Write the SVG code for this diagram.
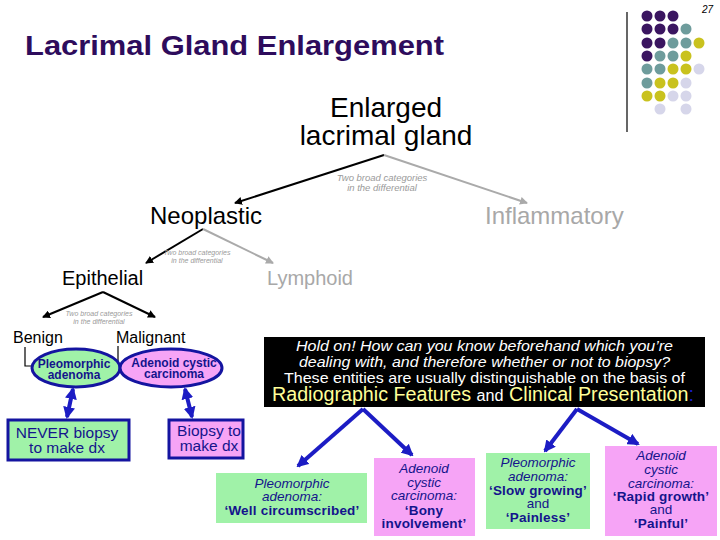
<svg xmlns="http://www.w3.org/2000/svg" width="720" height="540" viewBox="0 0 720 540">
<style>
text{font-family:"Liberation Sans",Arial,sans-serif}
.c{text-anchor:middle}
.small{font-size:9.5px;font-style:italic;fill:#9a9a9a}
.tiny{font-size:7px;font-style:italic;fill:#9a9a9a}
.nav{fill:#14148c}
.bx{font-size:13.5px}
.it{font-style:italic}
.bd{font-weight:bold;letter-spacing:0.2px}
.bl{stroke:#000;stroke-width:2;fill:none}
.gr{stroke:#aaaaaa;stroke-width:2;fill:none}
.blue{stroke:#1c1cc4;stroke-width:4;fill:none}
.P{fill:#3a1560}.T{fill:#6e9c9c}.Y{fill:#c9c21e}.L{fill:#d6d6ea}
</style>
<defs>
<marker id="ab" markerWidth="8" markerHeight="8" refX="7" refY="4" orient="auto" markerUnits="userSpaceOnUse"><path d="M0,0 L8,4 L0,8 z" fill="#000"/></marker>
<marker id="ag" markerWidth="8" markerHeight="8" refX="7" refY="4" orient="auto" markerUnits="userSpaceOnUse"><path d="M0,0 L8,4 L0,8 z" fill="#aaaaaa"/></marker>
<marker id="au" markerWidth="12" markerHeight="12" refX="10" refY="6" orient="auto" markerUnits="userSpaceOnUse"><path d="M0,0 L12,6 L0,12 z" fill="#1c1cc4"/></marker>
<marker id="aus" markerWidth="12" markerHeight="12" refX="2" refY="6" orient="auto" markerUnits="userSpaceOnUse"><path d="M12,0 L0,6 L12,12 z" fill="#1c1cc4"/></marker>
</defs>
<rect width="720" height="540" fill="#fff"/>

<g id="decor">
<text x="713" y="13" font-size="10" font-style="italic" text-anchor="end">27</text>
<line x1="627" y1="12" x2="627" y2="132" stroke="#000" stroke-width="1.2"/>
<circle class="P" cx="647" cy="16" r="5.5"/><circle class="P" cx="660" cy="16" r="5.5"/><circle class="P" cx="673" cy="16" r="5.5"/>
<circle class="P" cx="647" cy="29" r="5.5"/><circle class="P" cx="660" cy="29" r="5.5"/><circle class="P" cx="673" cy="29" r="5.5"/><circle class="T" cx="686" cy="29" r="5.5"/>
<circle class="P" cx="647" cy="43" r="5.5"/><circle class="P" cx="660" cy="43" r="5.5"/><circle class="T" cx="673" cy="43" r="5.5"/><circle class="T" cx="686" cy="43" r="5.5"/><circle class="Y" cx="699" cy="43" r="5.5"/>
<circle class="P" cx="647" cy="56" r="5.5"/><circle class="T" cx="660" cy="56" r="5.5"/><circle class="T" cx="673" cy="56" r="5.5"/><circle class="Y" cx="686" cy="56" r="5.5"/>
<circle class="T" cx="647" cy="69" r="5.5"/><circle class="T" cx="660" cy="69" r="5.5"/><circle class="Y" cx="673" cy="69" r="5.5"/><circle class="Y" cx="686" cy="69" r="5.5"/><circle class="L" cx="699" cy="69" r="5.5"/>
<circle class="T" cx="647" cy="83" r="5.5"/><circle class="Y" cx="660" cy="83" r="5.5"/><circle class="Y" cx="673" cy="83" r="5.5"/><circle class="L" cx="686" cy="83" r="5.5"/>
<circle class="Y" cx="647" cy="96" r="5.5"/><circle class="Y" cx="660" cy="96" r="5.5"/><circle class="L" cx="673" cy="96" r="5.5"/><circle class="L" cx="686" cy="96" r="5.5"/>
<circle class="L" cx="660" cy="109" r="5.5"/><circle class="L" cx="686" cy="109" r="5.5"/>
</g>

<g id="title"><text x="25" y="55" font-size="28" font-weight="bold" fill="#2e0c5c" textLength="419" lengthAdjust="spacingAndGlyphs">Lacrimal Gland Enlargement</text></g>

<g id="connectors">
<line class="bl" x1="384" y1="155" x2="235" y2="203" marker-end="url(#ab)"/>
<line class="gr" x1="384" y1="155" x2="527" y2="203" marker-end="url(#ag)"/>
<line class="bl" x1="203" y1="229" x2="146" y2="263" marker-end="url(#ab)"/>
<line class="gr" x1="203" y1="229" x2="273" y2="263" marker-end="url(#ag)"/>
<line class="bl" x1="103" y1="292" x2="43" y2="317" marker-end="url(#ab)"/>
<line class="bl" x1="103" y1="292" x2="155" y2="317" marker-end="url(#ab)"/>
<polyline points="25,347 25,366 33,366" stroke="#000" stroke-width="1.2" fill="none"/>
<line x1="118" y1="346" x2="118" y2="366" stroke="#000" stroke-width="1.2"/>
<line class="blue" x1="73" y1="389" x2="67" y2="417" marker-start="url(#aus)" marker-end="url(#au)"/>
<line class="blue" x1="185" y1="389" x2="192" y2="417" marker-start="url(#aus)" marker-end="url(#au)"/>
<line class="blue" x1="363" y1="409" x2="298" y2="466" marker-end="url(#au)"/>
<line class="blue" x1="363" y1="409" x2="412" y2="455" marker-end="url(#au)"/>
<line class="blue" x1="577" y1="409" x2="545" y2="451" marker-end="url(#au)"/>
<line class="blue" x1="577" y1="409" x2="638" y2="444" marker-end="url(#au)"/>
</g>

<g id="root"><text class="c" x="386" y="117" font-size="28">Enlarged</text><text class="c" x="386" y="145" font-size="28">lacrimal gland</text></g>
<g id="label1"><text class="c small" x="382" y="181">Two broad categories</text><text class="c small" x="382" y="191">in the differential</text></g>
<g id="neoplastic"><text x="150" y="224" font-size="24">Neoplastic</text></g>
<g id="inflammatory"><text x="485" y="224" font-size="24" fill="#a8a8a8">Inflammatory</text></g>
<g id="label2"><text class="c tiny" x="197" y="255">Two broad categories</text><text class="c tiny" x="197" y="263">in the differential</text></g>
<g id="epithelial"><text x="62" y="285" font-size="20">Epithelial</text></g>
<g id="lymphoid"><text x="267" y="285" font-size="20" fill="#a8a8a8">Lymphoid</text></g>
<g id="label3"><text class="c tiny" x="99" y="316">Two broad categories</text><text class="c tiny" x="99" y="324">in the differential</text></g>
<g id="benign"><text x="13" y="343" font-size="16">Benign</text></g>
<g id="malignant"><text x="116" y="343" font-size="16">Malignant</text></g>

<g id="pleo-ellipse"><ellipse cx="76" cy="368" rx="44" ry="19" fill="#a0f2a8" stroke="#1414a0" stroke-width="3"/>
<text class="c nav" x="74" y="368" font-size="12" font-weight="bold">Pleomorphic</text><text class="c nav" x="74" y="379" font-size="12" font-weight="bold">adenoma</text></g>
<g id="acc-ellipse"><ellipse cx="171" cy="368" rx="51" ry="19" fill="#f6a4f6" stroke="#1414a0" stroke-width="3"/>
<text class="c nav" x="174" y="367" font-size="12" font-weight="bold">Adenoid cystic</text><text class="c nav" x="174" y="378" font-size="12" font-weight="bold">carcinoma</text></g>

<g id="never"><rect x="8" y="420" width="121" height="40" fill="#a0f2a8" stroke="#1414a0" stroke-width="3"/>
<text class="c nav" x="67" y="438" font-size="15.5">NEVER biopsy</text><text class="c nav" x="67" y="453" font-size="15.5">to make dx</text></g>
<g id="biopsy"><rect x="169" y="420" width="74" height="38" fill="#f6a4f6" stroke="#1414a0" stroke-width="3"/>
<text class="c nav" x="209" y="436" font-size="15.5">Biopsy to</text><text class="c nav" x="209" y="451" font-size="15.5">make dx</text></g>

<g id="holdon"><rect x="264" y="337" width="441" height="70" fill="#000"/>
<text x="296" y="351" font-size="15" font-style="italic" fill="#fff" textLength="377" lengthAdjust="spacingAndGlyphs">Hold on! How can you know beforehand which you’re</text>
<text x="299" y="367" font-size="15" font-style="italic" fill="#fff" textLength="371" lengthAdjust="spacingAndGlyphs">dealing with, and therefore whether or not to biopsy?</text>
<text x="284" y="383" font-size="15" fill="#fff" textLength="401" lengthAdjust="spacingAndGlyphs">These entities are usually distinguishable on the basis of</text>
<text x="272" y="401" font-size="19.5" fill="#ffff99" textLength="422" lengthAdjust="spacingAndGlyphs">Radiographic Features <tspan fill="#fff" font-size="16">and</tspan> Clinical Presentation<tspan fill="#1c1cc4">:</tspan></text></g>

<g id="b1"><rect x="216" y="473" width="151" height="50" fill="#a0f2a8"/>
<text class="c nav bx it" x="292" y="488">Pleomorphic</text><text class="c nav bx it" x="292" y="501">adenoma:</text><text class="c nav bx bd" x="292" y="515">‘Well circumscribed’</text></g>
<g id="b2"><rect x="374" y="458" width="101" height="78" fill="#f6a4f6"/>
<text class="c nav bx it" x="424" y="473">Adenoid</text><text class="c nav bx it" x="424" y="487">cystic</text><text class="c nav bx it" x="424" y="500">carcinoma:</text><text class="c nav bx bd" x="424" y="515">‘Bony</text><text class="c nav bx bd" x="424" y="528">involvement’</text></g>
<g id="b3"><rect x="486" y="453" width="104" height="76" fill="#a0f2a8"/>
<text class="c nav bx it" x="538" y="467">Pleomorphic</text><text class="c nav bx it" x="538" y="481">adenoma:</text><text class="c nav bx bd" x="538" y="495">‘Slow growing’</text><text class="c nav bx" x="538" y="508">and</text><text class="c nav bx bd" x="538" y="522">‘Painless’</text></g>
<g id="b4"><rect x="605" y="446" width="112" height="90" fill="#f6a4f6"/>
<text class="c nav bx it" x="661" y="460">Adenoid</text><text class="c nav bx it" x="661" y="474">cystic</text><text class="c nav bx it" x="661" y="488">carcinoma:</text><text class="c nav bx bd" x="661" y="501">‘Rapid growth’</text><text class="c nav bx" x="661" y="514">and</text><text class="c nav bx bd" x="661" y="528">‘Painful’</text></g>
</svg>
